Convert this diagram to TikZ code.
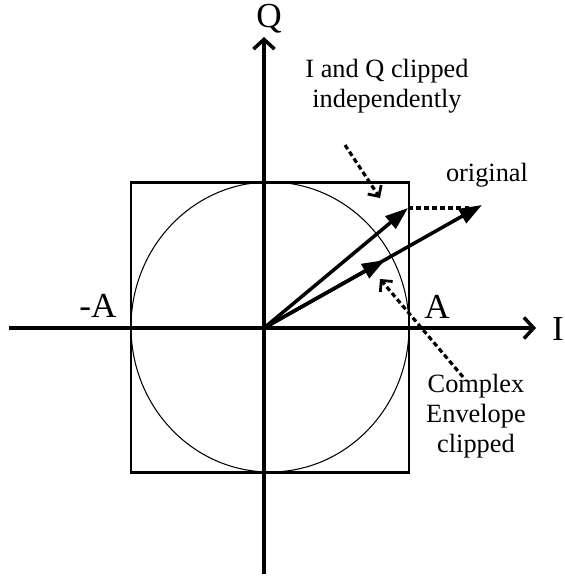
\documentclass[tikz,border=0pt]{standalone}
\usepackage{fontspec}
\setmainfont{Liberation Serif}
\usetikzlibrary{arrows.meta}

\begin{document}
\begin{tikzpicture}[x=0.02cm, y=-0.02cm,
    axis/.style={line width=2.2pt, -{Straight Barb[length=5.5pt, width=12pt, line width=2pt]}},
    vec/.style={line width=2pt, -{Triangle[length=13pt, width=9pt]}},
    bound/.style={line width=1.7pt},
    ring/.style={line width=0.6pt},
    pointer/.style={line width=1.8pt, dash pattern=on 2.8pt off 1.8pt,
                    -{Straight Barb[angle=90:6.5pt, line width=1.6pt]}},
    proj/.style={line width=1.8pt, dash pattern=on 2.8pt off 1.8pt},
    lbl/.style={font=\fontsize{15}{17}\selectfont, align=center, inner sep=0pt},
    axlbl/.style={font=\fontsize{20}{22}\selectfont, inner sep=0pt}
  ]
    \useasboundingbox (0,0) rectangle (565,576);

    % axes and bounds
    \coordinate (O)     at (264,328);
    \coordinate (Ilo)   at (9,328);
    \coordinate (Ihi)   at (536,328);
    \coordinate (Qlo)   at (264,574);
    \coordinate (Qhi)   at (264,37);
    \draw[bound] (131,182) rectangle (409,472);
    \draw[ring] (270,327) ellipse [x radius=139, y radius=145];
    \draw[axis] (Ilo) -- (Ihi);
    \draw[axis] (Qlo) -- (Qhi);

    % vectors
    \coordinate (orig)  at (482,205);
    \coordinate (clipIQ) at (408,208);
    \coordinate (clipEnv) at (385,260);
    \coordinate (projEnd) at (470,208);
    \draw[vec] (O) -- (orig);
    \draw[vec] (O) -- (clipIQ);
    \draw[vec] (O) -- (clipEnv);
    \draw[proj] (clipIQ) -- (projEnd);

    % labels
    \node[axlbl] (Q)    at (269,19)  {Q};
    \node[axlbl] (I)    at (558,329) {I};
    \node[axlbl] (negA) at (98,306)  {-A};
    \node[axlbl] (posA) at (437,307) {A};
    \node[lbl] (iqTxt)  at (387,86)  {I and Q clipped\\independently};
    \node[lbl] (origTxt) at (487,175) {original};
    \node[lbl] (envTxt) at (476,416) {Complex\\Envelope\\clipped};

    % pointers
    \coordinate (iqFrom)  at (345,145);
    \coordinate (iqTo)    at (380,198);
    \coordinate (envFrom) at (463,377);
    \coordinate (envTo)   at (380,279);
    \draw[pointer] (iqFrom) -- (iqTo);
    \draw[pointer] (envFrom) -- (envTo);
\end{tikzpicture}
\end{document}
